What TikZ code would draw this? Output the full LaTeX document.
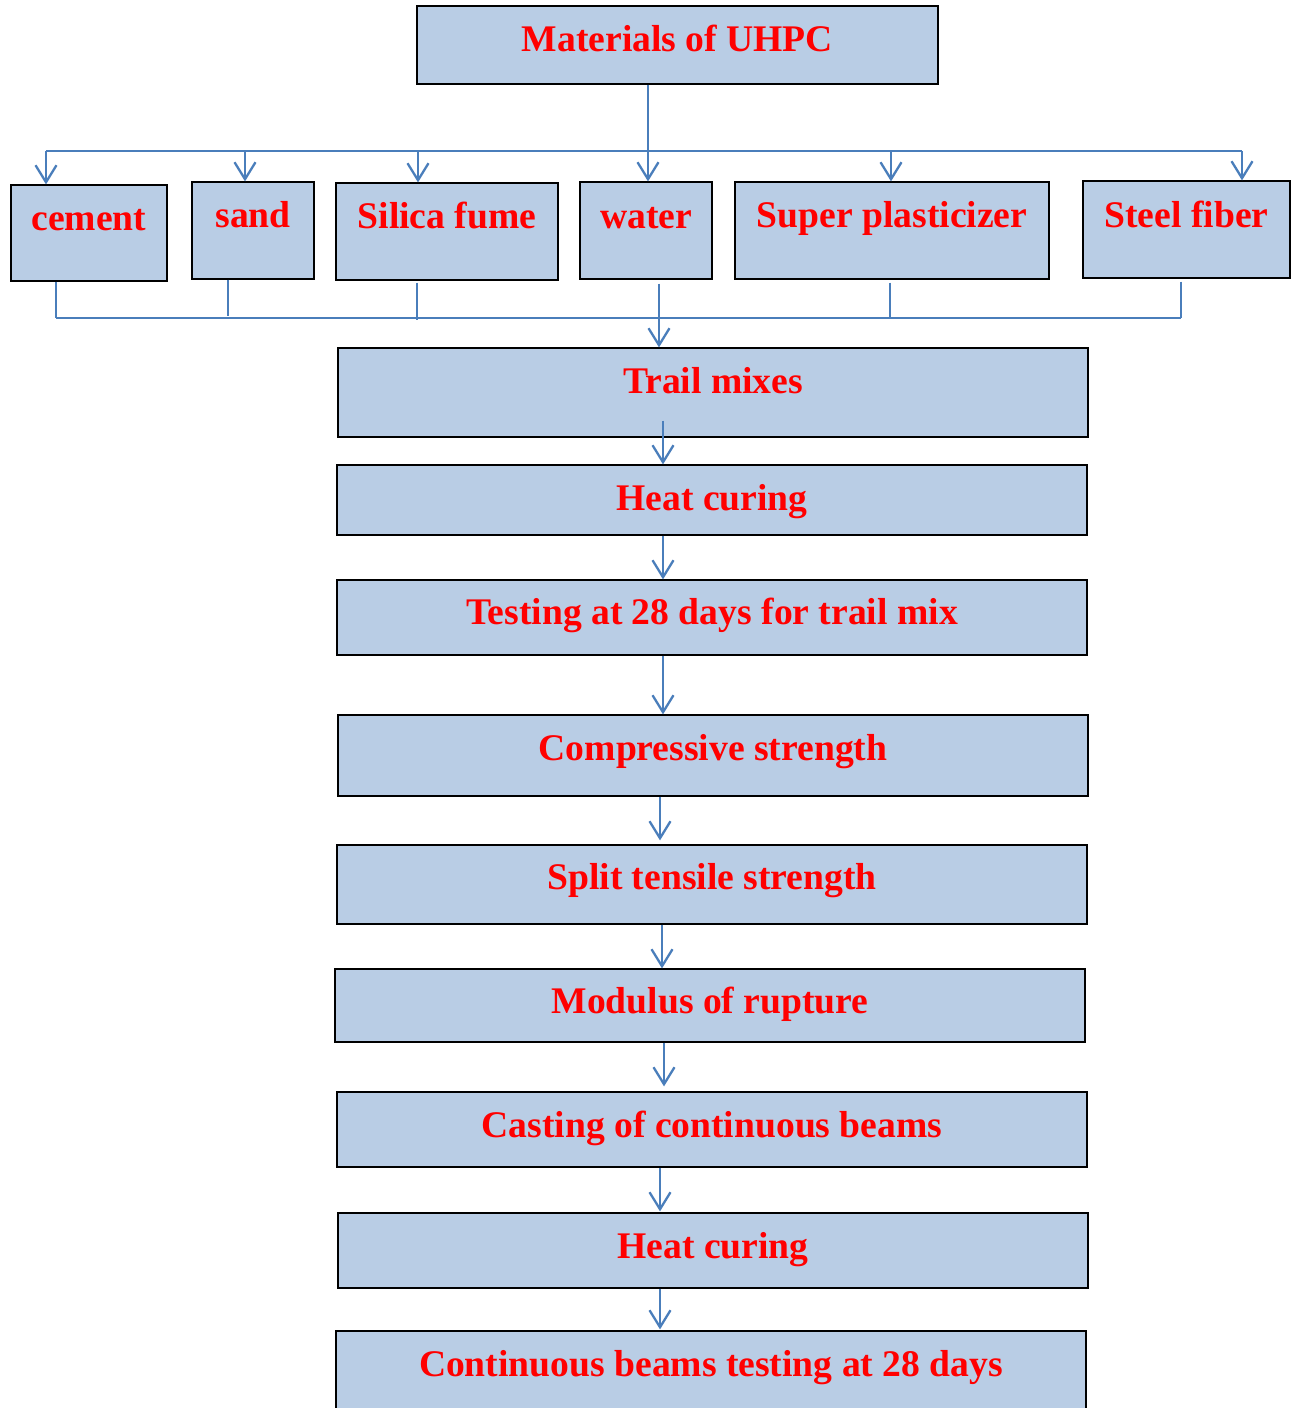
\documentclass[tikz,border=0pt]{standalone}
\usepackage{fontspec}
\setmainfont{Liberation Serif}
\usetikzlibrary{arrows.meta}
\definecolor{boxfill}{HTML}{B9CDE5}
\definecolor{linkblue}{HTML}{4A7EBB}
\definecolor{txtred}{HTML}{FF0000}
\tikzset{
  box/.style={draw=black, line width=1.2pt, fill=boxfill, inner sep=0pt},
  lbl/.style={anchor=base, text=txtred, font=\fontsize{37.6}{40}\selectfont\bfseries, inner sep=0pt},
  link/.style={draw=linkblue, line width=2.2pt},
  arr/.style={link, -{Straight Barb[length=17pt,width=21pt,line width=2.3pt]}},
}
\newcommand{\mybox}[7]{%
  \node[box, minimum width={#4-#2}, minimum height={#5-#3}] (#1) at ({(#2+#4)/2},{(#3+#5)/2}) {};
  \node[lbl] (#1t) at ({(#2+#4)/2},#6) {#7};
}
\begin{document}
\begin{tikzpicture}[x=1pt,y=-1pt]
\useasboundingbox (0,0) rectangle (1293,1408);
\clip (0,0) rectangle (1293,1408);
\fill[white] (0,0) rectangle (1293,1408);

\mybox{mat}{417}{6}{938}{84}{51}{Materials of UHPC}
\mybox{cem}{11}{185}{167}{281}{230}{cement}
\mybox{san}{192}{182}{314}{279}{227}{sand}
\mybox{sil}{336}{183}{558}{280}{228}{Silica fume}
\mybox{wat}{580}{182}{712}{279}{228}{water}
\mybox{sup}{735}{182}{1049}{279}{227}{Super plasticizer}
\mybox{ste}{1083}{181}{1290}{278}{227}{Steel fiber}

\mybox{tri}{338}{348}{1088}{437}{393}{Trail mixes}
\mybox{hc1}{337}{465}{1087}{535}{510}{Heat curing}
\mybox{tst}{337}{580}{1087}{655}{624}{Testing at 28 days for trail mix}
\mybox{cmp}{338}{715}{1088}{796}{760}{Compressive strength}
\mybox{spl}{337}{845}{1087}{924}{889}{Split tensile strength}
\mybox{mod}{335}{969}{1085}{1042}{1013}{Modulus of rupture}
\mybox{cst}{337}{1092}{1087}{1167}{1137}{Casting of continuous beams}
\mybox{hc2}{338}{1213}{1088}{1288}{1258}{Heat curing}
\mybox{cnt}{336}{1331}{1086}{1421}{1376}{Continuous beams testing at 28 days}

% top distribution bus
\coordinate (busL) at (46,151);
\coordinate (busR) at (1242,151);
\draw[link] (busL) -- (busR);
\draw[arr] (mat.south -| 648,0) -- (wat.north -| 648,0);
\draw[arr] (busL) -- (cem.north -| busL);
\draw[arr] (245,151) -- (san.north -| 245,0);
\draw[arr] (418,151) -- (sil.north -| 418,0);
\draw[arr] (891,151) -- (sup.north -| 891,0);
\draw[arr] (busR) -- (ste.north -| busR);

% bottom collecting bus
\coordinate (colL) at (56,318);
\coordinate (colR) at (1181,318);
\draw[link] (colL) -- (colR);
\draw[link] (cem.south -| colL) -- (colL);
\draw[link] (san.south -| 228,0) -- (228,316);
\draw[link] ([yshift=-2pt]sil.south -| 417,0) -- (417,320);
\draw[link] ([yshift=-3pt]sup.south -| 890,0) -- (890,318);
\draw[link] ([yshift=-3pt]ste.south -| colR) -- (colR);
\draw[arr] ([yshift=-4pt]wat.south -| 659,0) -- (tri.north -| 659,0);

% main chain
\draw[arr] ([yshift=17pt]tri.south -| 663,0) -- (hc1.north -| 663,0);
\draw[arr] (hc1.south -| 663,0) -- (tst.north -| 663,0);
\draw[arr] (tst.south -| 663,0) -- (cmp.north -| 663,0);
\draw[arr] (cmp.south -| 660,0) -- ([yshift=4pt]spl.north -| 660,0);
\draw[arr] (spl.south -| 662,0) -- (mod.north -| 662,0);
\draw[arr] (mod.south -| 664,0) -- ([yshift=5pt]cst.north -| 664,0);
\draw[arr] (cst.south -| 660,0) -- ([yshift=1pt]hc2.north -| 660,0);
\draw[arr] (hc2.south -| 660,0) -- ([yshift=1pt]cnt.north -| 660,0);
\end{tikzpicture}
\end{document}
